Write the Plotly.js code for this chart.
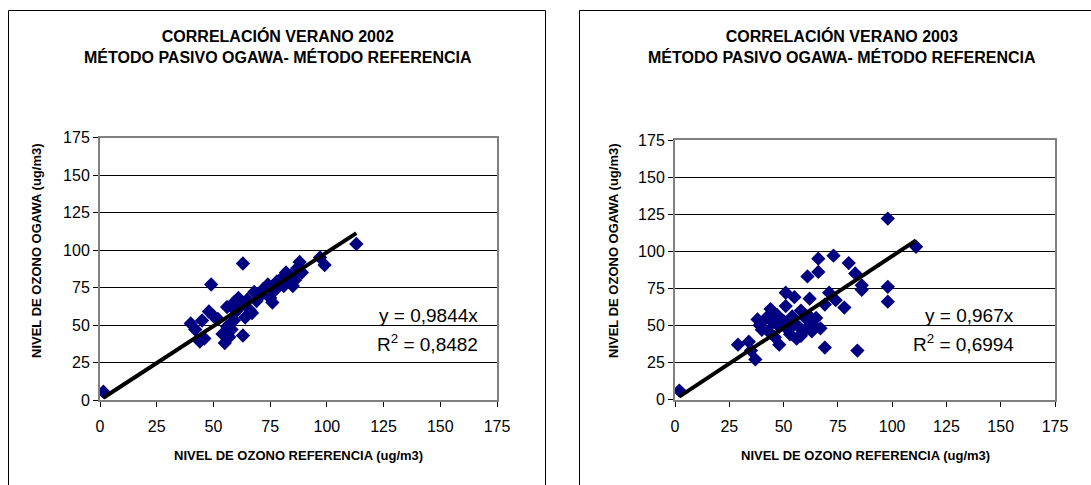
<!DOCTYPE html>
<html><head><meta charset="utf-8">
<script src="https://cdn.plot.ly/plotly-3.0.1.min.js"></script>
<style>html,body{margin:0;padding:0;background:#fff;overflow:hidden;} #chart{width:1091px;height:485px;}</style>
</head><body><div id="chart"></div>
<script>
// ---- data ----
const x2002 = [1.5,40,42,44,45,46,48,49,50,52,54,55,56,56,57,58,59,59,60,61,62,63,63,64,65,66,67,68,69,71,72,74,75,76,77,78,80,81,82,83,84,85,86,87,88,89,97,99,113];
const y2002 = [5.5,51,47,39,53,41,59,77,56,54,44,38,49,62,42,47,53,65,59,68,63,91,43,55,67,60,58,72,66,70,74,77,68,65,73,79,81,76,85,79,83,76,80,88,92,85,95,90,104];
const x2003 = [2,29,34,35,37,38,39,40,42,43,44,45,46,47,48,48,50,51,51,52,53,54,55,55,56,57,58,58,60,60,61,62,62,63,63,65,66,66,67,69,69,71,73,74,78,80,83,84,86,86,98,98,98,111];
const y2003 = [6,37,39,33,27,54,50,47,55,46,61,52,42,57,37,49,53,63,72,47,44,56,69,51,41,49,60,43,47,55,83,68,56,51,46,55,86,95,48,35,64,72,97,67,62,92,85,33,77,74,122,76,66,103];
const slopes = [0.9844, 0.967];
const eqTexts = ['y = 0,9844x', 'y = 0,967x'];
const r2Texts = ['0,8482', '0,6994'];
const chartTitles = ['CORRELACIÓN VERANO 2002<br>MÉTODO PASIVO OGAWA- MÉTODO REFERENCIA',
                     'CORRELACIÓN VERANO 2003<br>MÉTODO PASIVO OGAWA- MÉTODO REFERENCIA'];
const xTitle = 'NIVEL DE OZONO REFERENCIA (ug/m3)';
const yTitle = 'NIVEL DE OZONO OGAWA (ug/m3)';
const tickVals = [0,25,50,75,100,125,150,175];

// ---- layout helpers ----
const W = 1091, H = 485;
const px = v => v / W;
const py = v => 1 - v / H;
const FONT = '"Liberation Sans", Arial, sans-serif';

function trend(xs, slope) {
  const lo = Math.min(...xs), hi = Math.max(...xs);
  return {x: [lo, hi], y: [lo * slope, hi * slope]};
}

const sets = [[x2002, y2002], [x2003, y2003]];
const traces = [];
sets.forEach((s, i) => {
  const xa = i === 0 ? 'x' : 'x2', ya = i === 0 ? 'y' : 'y2';
  traces.push({x: s[0], y: s[1], type: 'scatter', mode: 'markers', xaxis: xa, yaxis: ya,
    marker: {symbol: 'diamond', size: 11, color: '#000080', line: {width: 0}}, showlegend: false, hoverinfo: 'x+y'});
  const t = trend(s[0], slopes[i]);
  traces.push({x: t.x, y: t.y, type: 'scatter', mode: 'lines', xaxis: xa, yaxis: ya,
    line: {color: '#000', width: 4}, showlegend: false, hoverinfo: 'skip'});
});

function axis(domain, anchor) {
  return {domain: domain, anchor: anchor, range: [0, 175], tickvals: tickVals, ticktext: tickVals.map(String),
    ticks: 'outside', ticklen: 5, tickwidth: 1, tickcolor: '#000',
    showline: true, linecolor: '#808080', linewidth: 2, mirror: true,
    showgrid: false, zeroline: false, fixedrange: true,
    tickfont: {family: FONT, size: 16, color: '#000'}};
}

const xa1 = axis([px(100), px(497)], 'y'); xa1.ticklabelstandoff = 6;
const ya1 = axis([py(400), py(137.5)], 'x'); ya1.showgrid = true; ya1.gridcolor = '#000'; ya1.gridwidth = 1;
const xa2 = axis([px(675), px(1055)], 'y2'); xa2.ticklabelstandoff = 6;
const ya2 = axis([py(399.5), py(140)], 'x2'); ya2.showgrid = true; ya2.gridcolor = '#000'; ya2.gridwidth = 1;

const ann = [];
const titleCx = [278, 842];
const yTitleX = [36, 613];
const xTitleCx = [298, 865];
const xTitleY = [455, 455];
const eqRight = [480, 1016];
chartTitles.forEach((t, i) => {
  ann.push({xref: 'paper', yref: 'paper', x: px(titleCx[i]), y: py(47), xanchor: 'center', yanchor: 'middle',
    text: '<b>' + t.replace('<br>', '</b><br><b>') + '</b>', showarrow: false, align: 'center',
    font: {family: FONT, size: 16, color: '#000'}});
  ann.push({xref: 'paper', yref: 'paper', x: px(xTitleCx[i]), y: py(xTitleY[i]), xanchor: 'center', yanchor: 'middle',
    text: '<b>' + xTitle + '</b>', showarrow: false, font: {family: FONT, size: 13, color: '#000'}});
  ann.push({xref: 'paper', yref: 'paper', x: px(yTitleX[i]), y: py(251), xanchor: 'center', yanchor: 'middle',
    text: '<b>' + yTitle + '</b>', textangle: -90, showarrow: false, font: {family: FONT, size: 13, color: '#000'}});
  ann.push({xref: 'paper', yref: 'paper', x: px(eqRight[i]), y: py(315), xanchor: 'right', yanchor: 'middle',
    text: eqTexts[i], showarrow: false, font: {family: FONT, size: 19, color: '#000'}});
  ann.push({xref: 'paper', yref: 'paper', x: px(eqRight[i]), y: py(343), xanchor: 'right', yanchor: 'middle',
    text: 'R<sup>2</sup> = ' + r2Texts[i], showarrow: false, font: {family: FONT, size: 19, color: '#000'}});
});

const shapes = [
  {type: 'rect', xref: 'paper', yref: 'paper', x0: px(8.5), x1: px(545.5), y0: -0.05, y1: py(10.5), line: {color: '#000', width: 1}},
  {type: 'rect', xref: 'paper', yref: 'paper', x0: px(579.5), x1: 1.05, y0: -0.05, y1: py(10.5), line: {color: '#000', width: 1}}
];

const layout = {
  width: W, height: H, margin: {l: 0, r: 0, t: 0, b: 0},
  paper_bgcolor: '#fff', plot_bgcolor: '#fff', showlegend: false,
  font: {family: FONT, color: '#000'},
  xaxis: xa1, yaxis: ya1, xaxis2: xa2, yaxis2: ya2,
  annotations: ann, shapes: shapes
};

Plotly.newPlot('chart', traces, layout, {staticPlot: true, displayModeBar: false});
</script>
</body></html>
